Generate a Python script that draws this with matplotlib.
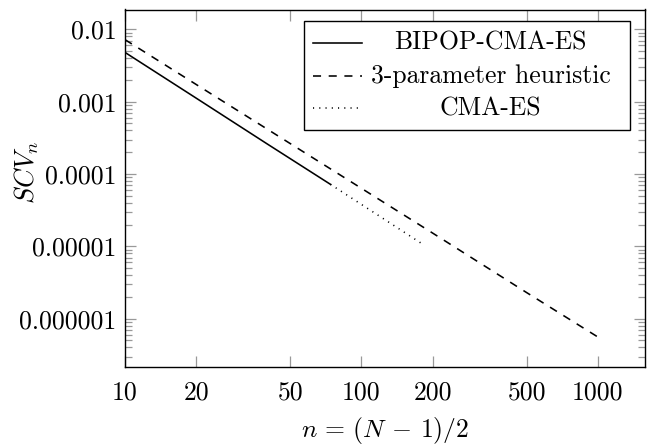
import matplotlib
matplotlib.use("Agg")
import matplotlib.pyplot as plt
from matplotlib.patches import Rectangle
from matplotlib.lines import Line2D
from matplotlib.ticker import FixedLocator, FixedFormatter, NullLocator, LogLocator

# ---- data ----
bipop_n = [10, 20, 40, 74]
bipop_v = [4.8e-3, 1.12e-3, 2.6e-4, 7.2e-5]

heur_n = [10, 20, 200, 500, 1000]
heur_v = [7.2e-3, 1.73e-3, 1.53e-5, 2.3e-6, 5.6e-7]

cma_n = [74, 104, 178]
cma_v = [7.2e-5, 3.5e-5, 1.12e-5]

xticks = [10, 20, 50, 100, 200, 500, 1000]
xtick_labels = ["10", "20", "50", "100", "200", "500", "1000"]
yticks = [1e-2, 1e-3, 1e-4, 1e-5, 1e-6]
ytick_labels = ["0.01", "0.001", "0.0001", "0.00001", "0.000001"]

labels = ["BIPOP-CMA-ES", "3-parameter heuristic", "CMA-ES"]

# ---- style ----
plt.rcParams["font.family"] = ["cmr10"]
plt.rcParams["mathtext.fontset"] = "cm"
plt.rcParams["axes.unicode_minus"] = False
plt.rcParams["axes.formatter.use_mathtext"] = True
plt.rcParams["lines.scale_dashes"] = False
FS = 18.5

fig = plt.figure(figsize=(6.56, 4.45), dpi=100)
ax = fig.add_axes([125/656, 1 - 367/445, 520/656, 357.5/445])

lw = 1.15
dash = (0, (5.8, 5.5))
dot = (0, (0.8, 3.7))
ax.plot(bipop_n, bipop_v, color="black", lw=lw, linestyle="-")
ax.plot(heur_n, heur_v, color="black", lw=lw, linestyle=dash)
ax.plot(cma_n, cma_v, color="black", lw=lw, linestyle=dot)

ax.set_xscale("log")
ax.set_yscale("log")
ax.set_xlim(10, 1585)
ax.set_ylim(2.15e-7, 0.0188)

ax.xaxis.set_major_locator(FixedLocator(xticks))
ax.xaxis.set_major_formatter(FixedFormatter(xtick_labels))
ax.xaxis.set_minor_locator(NullLocator())
ax.yaxis.set_major_locator(FixedLocator(yticks))
ax.yaxis.set_major_formatter(FixedFormatter(ytick_labels))
ax.yaxis.set_minor_locator(LogLocator(base=10, subs=range(2, 10), numticks=20))

ax.tick_params(which="both", direction="in", top=True, right=True, color="0.6",
               width=0.9, labelsize=FS)
ax.tick_params(which="major", length=8.0)
ax.tick_params(which="minor", length=5.2)
ax.tick_params(axis="y", pad=6)
ax.tick_params(axis="x", pad=10)

for s in ax.spines.values():
    s.set_linewidth(1.0)
    s.set_color("black")

ax.set_ylabel("$SCV_n$", fontsize=FS + 0.5, va="center")
ax.yaxis.set_label_coords(-0.188, 0.545)
ax.set_xlabel(r"$n\,=\,(N\,-\,1)/2$", fontsize=FS, va="center")
ax.xaxis.set_label_coords(0.5, -0.178)

# ---- legend (drawn manually so the text is centred like the reference) ----
bx0, bx1, by0, by1 = 0.344, 0.971, 0.663, 0.968
ax.add_patch(Rectangle((bx0, by0), bx1 - bx0, by1 - by0, transform=ax.transAxes,
                       facecolor="white", edgecolor="black", lw=1.0, zorder=5))
rows = [0.906, 0.814, 0.724]
styles = ["-", dash, dot]
for y, st, lab in zip(rows, styles, labels):
    ax.add_line(Line2D([0.3615, 0.4558], [y, y], transform=ax.transAxes,
                       color="black", lw=lw, linestyle=st, zorder=6))
    ax.text(0.703, y, lab, transform=ax.transAxes, ha="center", va="center",
            fontsize=FS, zorder=6)

fig.savefig("out.png", dpi=100)
